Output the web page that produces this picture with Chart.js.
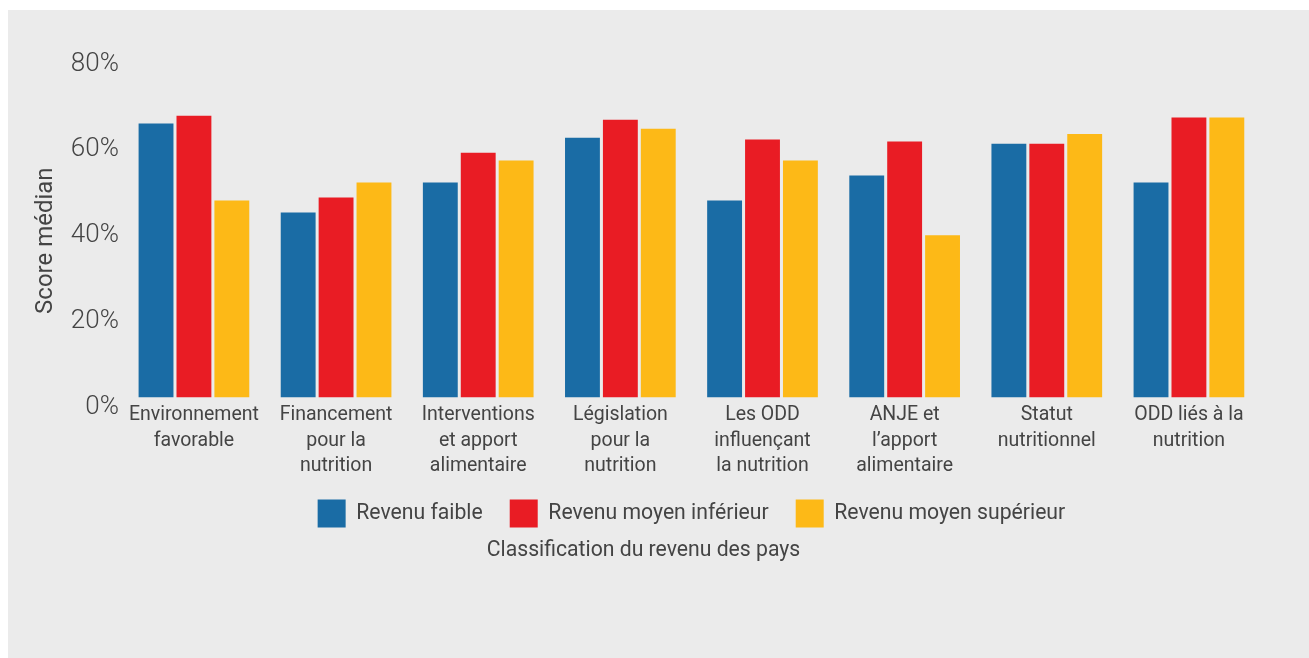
<!DOCTYPE html>
<html lang="fr">
  <head>
    <meta charset="UTF-8" />
    <title>Score médian par classification du revenu</title>
    <script src="https://cdn.jsdelivr.net/npm/chart.js"></script>
    <style>
      body { margin: 0; background: #fff; }
      #panel {
        position: absolute; left: 8px; top: 10px;
        width: 1301px; height: 648px; background: #ebebeb;
      }
    </style>
  </head>
  <body>
    <div id="panel"><canvas id="scoreChart"></canvas></div>

    <script>
      // categories (multi-line labels)
      const categories = [
        ["Environnement", "favorable"],
        ["Financement", "pour la", "nutrition"],
        ["Interventions", "et apport", "alimentaire"],
        ["Législation", "pour la", "nutrition"],
        ["Les ODD", "influençant", "la nutrition"],
        ["ANJE et", "l’apport", "alimentaire"],
        ["Statut", "nutritionnel"],
        ["ODD liés à la", "nutrition"],
      ];
      const seriesNames = ["Revenu faible", "Revenu moyen inférieur", "Revenu moyen supérieur"];
      const lowIncome = [63.8, 43.1, 50.1, 60.5, 45.9, 51.7, 59.1, 50.1];
      const lowerMiddle = [65.6, 46.6, 57.0, 64.7, 60.1, 59.6, 59.1, 65.2];
      const upperMiddle = [45.9, 50.1, 55.2, 62.6, 55.2, 37.8, 61.4, 65.2];
      const yTicks = [0, 20, 40, 60, 80];

      const textColor = "#444444";
      const colors = ["#1a6ca5", "#e91c24", "#fdb917"];

      const ctx = document.getElementById("scoreChart").getContext("2d");
      new Chart(ctx, {
        type: "bar",
        data: {
          labels: categories,
          datasets: [lowIncome, lowerMiddle, upperMiddle].map((vals, i) => ({
            label: seriesNames[i],
            data: vals,
            backgroundColor: colors[i],
            borderWidth: 0,
            barPercentage: 0.92,
            categoryPercentage: 0.8,
          })),
        },
        options: {
          responsive: true,
          maintainAspectRatio: false,
          animation: false,
          layout: { padding: { top: 44, right: 49, bottom: 95, left: 19 } },
          plugins: {
            tooltip: { enabled: false },
            legend: {
              position: "bottom",
              fullSize: false, // centre on the plot area
              labels: {
                boxWidth: 28,
                boxHeight: 28,
                padding: 27,
                color: textColor,
                font: { family: "Roboto", size: 21.2 },
              },
            },
            title: {
              display: true,
              position: "bottom",
              text: "Classification du revenu des pays",
              color: textColor,
              font: { family: "Roboto", size: 21.2, weight: "normal" },
              padding: { top: 0, bottom: 0 },
            },
          },
          scales: {
            x: {
              grid: { display: false, drawTicks: false },
              border: { display: false },
              // shorter axis box so the legend sits closer; don't clip the 3rd label line
              afterFit: (s) => { s.height = 75; s._computeLabelArea = () => undefined; },
              ticks: {
                color: textColor,
                padding: 5,
                maxRotation: 0,
                autoSkip: false,
                font: { family: "Roboto", size: 19.5, lineHeight: 1.31 },
              },
            },
            y: {
              min: 0,
              max: 80,
              grid: { display: false, drawTicks: false },
              border: { display: false },
              afterBuildTicks: (axis) => { axis.ticks = yTicks.map(v => ({ value: v })); },
              ticks: {
                color: textColor,
                padding: 4,
                labelOffset: 10,
                font: { family: "Roboto", size: 26, weight: 300 },
                callback: (v) => v + "%",
              },
              title: {
                display: true,
                text: "Score médian\u00a0\u00a0\u00a0\u00a0\u00a0",
                color: textColor,
                font: { family: "Roboto", size: 24 },
                padding: { top: 5, bottom: 6 },
              },
            },
          },
        },
      });
    </script>
  </body>
</html>
